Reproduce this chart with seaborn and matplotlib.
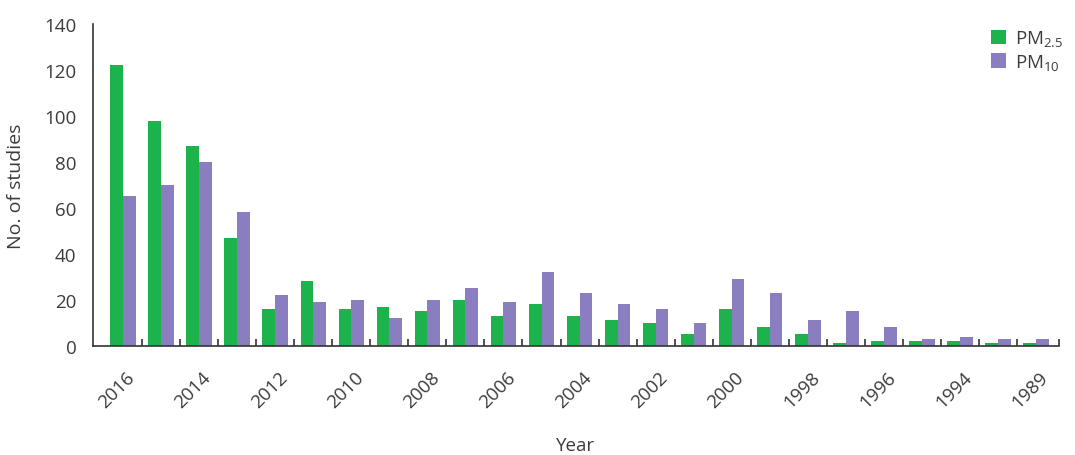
import numpy as np
import pandas as pd
import seaborn as sns
import matplotlib.pyplot as plt
import matplotlib.transforms as mtransforms

years = ['2016', '2015', '2014', '2013', '2012', '2011', '2010', '2009', '2008',
         '2007', '2006', '2005', '2004', '2003', '2002', '2001', '2000', '1999',
         '1998', '1997', '1996', '1995', '1994', '1993', '1989']
pm25 = [122, 98, 87, 47, 16, 28, 16, 17, 15, 20, 13, 18, 13, 11, 10, 5, 16, 8,
        5, 1, 2, 2, 2, 1, 1]
pm10 = [65, 70, 80, 58, 22, 19, 20, 12, 20, 25, 19, 32, 23, 18, 16, 10, 29, 23,
        11, 15, 8, 3, 4, 3, 3]
series = ['PM$_{2.5}$', 'PM$_{10}$']
colors = ['#1db34c', '#8b7ec0']

df = pd.DataFrame({
    'year': years * 2,
    'count': pm25 + pm10,
    'pm': [series[0]] * len(years) + [series[1]] * len(years),
})

sns.set_style('white')
plt.rcParams['font.family'] = ['Open Sans', 'DejaVu Sans']
plt.rcParams['mathtext.fontset'] = 'custom'
plt.rcParams['mathtext.rm'] = 'Open Sans'
plt.rcParams['mathtext.it'] = 'Open Sans'
text_col = '#3c3c3c'
fs = 13.5

fig = plt.figure(figsize=(10.75, 4.56), dpi=100)
ax = fig.add_axes([0.0865, 0.2397, 0.8985, 0.7055])

sns.barplot(data=df, x='year', y='count', hue='pm', order=years,
            palette=colors, width=0.67, saturation=1, linewidth=0, ax=ax)

ax.set_xlim(-0.79, 24.6)
ax.set_ylim(0, 140)
ax.set_yticks(range(0, 141, 20))
ax.tick_params(axis='y', length=0, pad=12, labelsize=fs, labelcolor=text_col)

# year labels every other group, boundary ticks between groups
ax.set_xticks(range(0, len(years), 2))
ax.set_xticklabels(years[::2])
ax.set_xticks(list(np.arange(0.5, 24, 1)) + [24.6], minor=True)
ax.tick_params(axis='x', which='major', length=0, pad=16, labelsize=fs,
               labelcolor=text_col)
ax.tick_params(axis='x', which='minor', direction='in', length=5, width=1.2,
               color='#333333', bottom=True)
offset = mtransforms.ScaledTranslation(-6 / 100, 0, fig.dpi_scale_trans)
for lab in ax.get_xticklabels():
    lab.set_rotation(45)
    lab.set_ha('center')
    lab.set_transform(lab.get_transform() + offset)

for s in ['top', 'right']:
    ax.spines[s].set_visible(False)
for s in ['left', 'bottom']:
    ax.spines[s].set_color('#333333')
    ax.spines[s].set_linewidth(1.2)

ax.set_xlabel('Year', fontsize=fs, color=text_col, labelpad=18)
ax.set_ylabel('No. of studies', fontsize=14, color=text_col, labelpad=14)

ax.legend(title=None, loc='upper right', bbox_to_anchor=(1.012, 1.01),
          borderaxespad=0, frameon=False, fontsize=fs, handlelength=0.8,
          handleheight=0.8, handletextpad=0.5, labelspacing=0.2,
          labelcolor=text_col)

fig.savefig('out.png', dpi=100)
